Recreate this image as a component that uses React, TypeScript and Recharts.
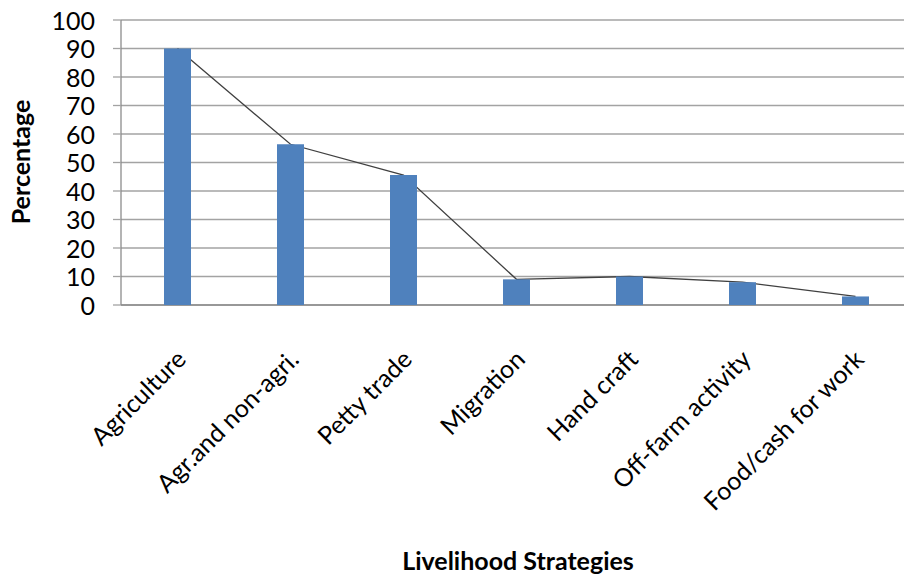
import React from "react";
import { Bar, CartesianGrid, ComposedChart, Line, XAxis, YAxis } from "recharts";

const strategies = [
  "Agriculture",
  "Agr.and non-agri.",
  "Petty trade",
  "Migration",
  "Hand craft",
  "Off-farm activity",
  "Food/cash for work",
];
const percentages = [90, 56.4, 45.6, 9, 10, 8, 3];
const yTicks = [0, 10, 20, 30, 40, 50, 60, 70, 80, 90, 100];

const data = strategies.map((name, i) => ({ name, value: percentages[i] }));

const FONT = "Lato, 'Open Sans', sans-serif";
const W = 920;
const H = 577;
const MARGIN = { top: 20, right: 8, left: 0, bottom: 0 };

function CategoryTick({ x, y, payload }: { x?: number; y?: number; payload?: { value: string } }) {
  const ax = (x ?? 0) + 10;
  const ay = (y ?? 0) + 48;
  return (
    <text
      x={ax}
      y={ay}
      transform={`rotate(-45, ${ax}, ${ay})`}
      textAnchor="end"
      fontFamily={FONT}
      fontSize={25}
      fill="#000"
    >
      {payload?.value}
    </text>
  );
}

const layer: React.CSSProperties = { position: "absolute", left: 0, top: 0 };

export default function App() {
  return (
    <div
      style={{
        position: "absolute",
        left: 0,
        top: 0,
        width: 904,
        height: 577,
        overflow: "hidden",
        background: "#fff",
      }}
    >
      {/* bottom layer: grid, axes and the trend line (sits behind the bars) */}
      <div style={layer}>
        <ComposedChart width={W} height={H} data={data} margin={MARGIN}>
          <CartesianGrid vertical={false} stroke="#a3a3a3" strokeWidth={1.3} />
          <XAxis
            dataKey="name"
            height={272}
            interval={0}
            axisLine={{ stroke: "#8c8c8c", strokeWidth: 1.3 }}
            tickLine={false}
            tick={<CategoryTick />}
            label={() => (
              <text
                x={518}
                y={570}
                textAnchor="middle"
                fontFamily={FONT}
                fontWeight="bold"
                fontSize={25}
                fill="#000"
              >
                Livelihood Strategies
              </text>
            )}
          />
          <YAxis
            width={121}
            domain={[0, 100]}
            ticks={yTicks}
            interval={0}
            axisLine={{ stroke: "#8c8c8c", strokeWidth: 1.3 }}
            tickLine={{ stroke: "#a3a3a3", strokeWidth: 1.3 }}
            tickSize={8}
            tickMargin={18}
            tick={{ fontFamily: FONT, fontSize: 25, fill: "#000", dy: 1 }}
            label={() => (
              <text
                x={30}
                y={162}
                transform="rotate(-90, 30, 162)"
                textAnchor="middle"
                fontFamily={FONT}
                fontWeight="bold"
                fontSize={25}
                fill="#000"
              >
                Percentage
              </text>
            )}
          />
          {/* invisible bars keep the same band layout as the top layer */}
          <Bar dataKey="value" fill="#4f81bd" fillOpacity={0} barSize={27} isAnimationActive={false} />
          <Line
            type="linear"
            dataKey="value"
            stroke="#404040"
            strokeWidth={1.3}
            dot={false}
            activeDot={false}
            isAnimationActive={false}
          />
        </ComposedChart>
      </div>
      {/* top layer: the bars, same layout with invisible axes */}
      <div style={layer}>
        <ComposedChart width={W} height={H} data={data} margin={MARGIN}>
          <XAxis dataKey="name" height={272} interval={0} axisLine={false} tickLine={false} tick={false} />
          <YAxis width={121} domain={[0, 100]} ticks={yTicks} axisLine={false} tickLine={false} tick={false} />
          <Bar dataKey="value" fill="#4f81bd" barSize={27} isAnimationActive={false} />
        </ComposedChart>
      </div>
    </div>
  );
}
